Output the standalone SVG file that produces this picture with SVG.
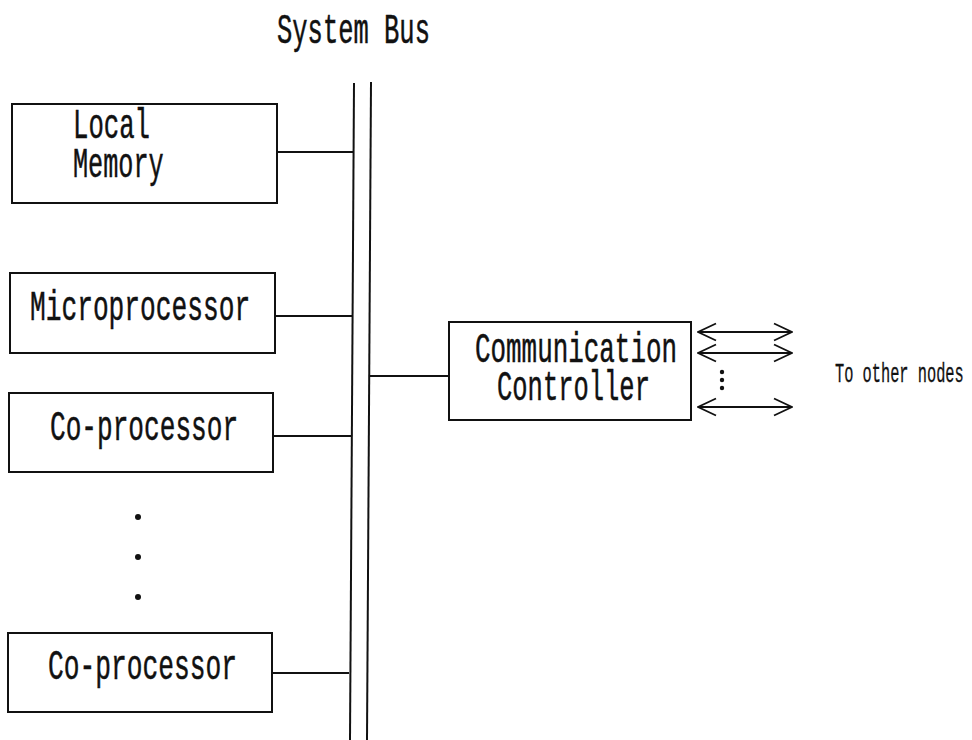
<svg xmlns="http://www.w3.org/2000/svg" width="972" height="740" viewBox="0 0 972 740">
<style>
  .box { fill: #fff; stroke: #111; stroke-width: 2; }
  .ln { fill: none; stroke: #111; stroke-width: 1.8; }
  .bus { fill: none; stroke: #111; stroke-width: 2; }
  .t { font-family: "Liberation Mono", "DejaVu Sans Mono", monospace; font-size: 42px; fill: #111; stroke: #111; stroke-width: 0.5; }
  .ts { font-family: "Liberation Mono", "DejaVu Sans Mono", monospace; font-size: 27px; fill: #111; stroke: #111; stroke-width: 0.3; }
  .dot { fill: #111; }
</style>
<defs>
  <marker id="oh" viewBox="0 0 20 20" refX="19" refY="10" markerWidth="20" markerHeight="20" markerUnits="userSpaceOnUse" orient="auto-start-reverse">
    <path d="M1,1.5 L19,10 L1,18.5" fill="none" stroke="#111" stroke-width="1.8"/>
  </marker>
</defs>
<rect width="972" height="740" fill="#fff"/>

<g id="bus-label">
  <text class="t" transform="matrix(0.607 0 0 1 277 43)">System Bus</text>
</g>

<g id="system-bus">
  <line class="bus" x1="354" y1="83" x2="350" y2="740"/>
  <line class="bus" x1="371" y1="82" x2="367" y2="740"/>
</g>

<g id="local-memory">
  <rect class="box" x="12" y="104" width="265" height="99"/>
  <text class="t" transform="matrix(0.611 0 0 1 73 138)">Local</text>
  <text class="t" transform="matrix(0.600 0 0 1 73 177)">Memory</text>
</g>

<g id="microprocessor">
  <rect class="box" x="10" y="273" width="265" height="80"/>
  <text class="t" transform="matrix(0.624 0 0 1 30 320)">Microprocessor</text>
</g>

<g id="coprocessor-1">
  <rect class="box" x="9" y="393" width="264" height="79"/>
  <text class="t" transform="matrix(0.622 0 0 1 50 440)">Co-processor</text>
</g>

<g id="ellipsis">
  <circle class="dot" cx="138" cy="517" r="3"/>
  <circle class="dot" cx="138" cy="557" r="3"/>
  <circle class="dot" cx="138" cy="597" r="3"/>
</g>

<g id="coprocessor-2">
  <rect class="box" x="8" y="633" width="264" height="79"/>
  <text class="t" transform="matrix(0.625 0 0 1 48 679)">Co-processor</text>
</g>

<g id="comm-controller">
  <rect class="box" x="449" y="322" width="242" height="98"/>
  <text class="t" transform="matrix(0.617 0 0 1 475 362)">Communication</text>
  <text class="t" transform="matrix(0.607 0 0 1 497 400)">Controller</text>
</g>

<g id="other-nodes">
  <text class="ts" transform="matrix(0.568 0 0 1 835 382)">To other nodes</text>
</g>

<g id="connectors">
  <line class="ln" x1="277" y1="152" x2="353" y2="152"/>
  <line class="ln" x1="275" y1="316" x2="352" y2="316"/>
  <line class="ln" x1="273" y1="436" x2="351" y2="436"/>
  <line class="ln" x1="272" y1="673" x2="349" y2="673"/>
  <line class="ln" x1="370" y1="376" x2="449" y2="376"/>
  <line class="ln" x1="698" y1="332" x2="792" y2="332" marker-start="url(#oh)" marker-end="url(#oh)"/>
  <line class="ln" x1="698" y1="353" x2="792" y2="353" marker-start="url(#oh)" marker-end="url(#oh)"/>
  <line class="ln" x1="698" y1="407" x2="792" y2="407" marker-start="url(#oh)" marker-end="url(#oh)"/>
  <circle class="dot" cx="722" cy="372" r="2.2"/>
  <circle class="dot" cx="722" cy="380" r="2.2"/>
  <circle class="dot" cx="722" cy="388" r="2.2"/>
</g>
</svg>
